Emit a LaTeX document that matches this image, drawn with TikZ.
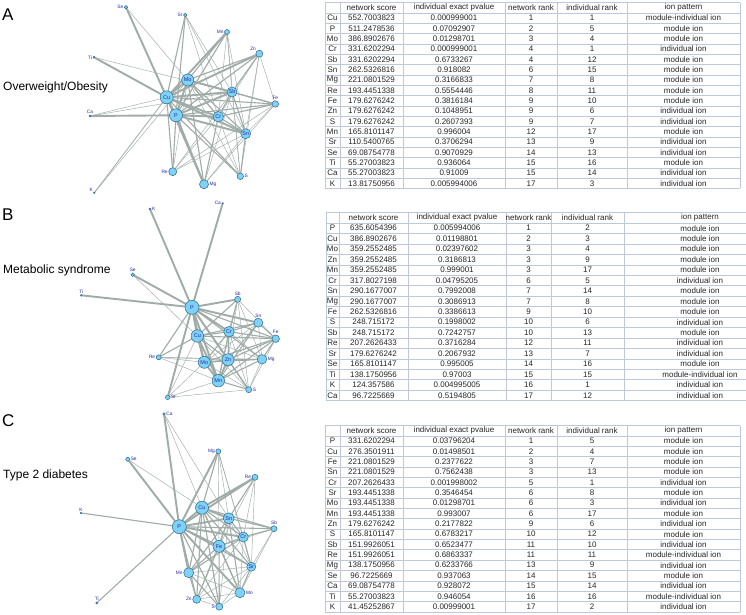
\documentclass[tikz,border=0pt]{standalone}
\usepackage{fontspec}
\setmainfont{Liberation Sans}
\usetikzlibrary{backgrounds}
\definecolor{ionfill}{RGB}{125,210,245}
\definecolor{iondraw}{RGB}{45,105,140}
\definecolor{ionlbl}{RGB}{40,40,170}
\definecolor{linkgray}{RGB}{160,172,168}
\definecolor{gridblue}{RGB}{190,200,215}
\tikzset{
  ion/.style={circle, draw=iondraw, fill=ionfill, line width=0.5pt, inner sep=0pt,
    text=ionlbl, font=\fontsize{5.5}{5.5}\selectfont},
  outlbl/.style={text=ionlbl, font=\fontsize{4.8}{4.8}\selectfont, inner sep=0.6pt},
  link/.style={draw=linkgray, line cap=round},
  gridline/.style={draw=gridblue, line width=0.5pt},
  cell/.style={text=black!85, font=\fontsize{8}{8}\selectfont, inner sep=0pt},
  panel/.style={font=\fontsize{17}{17}\selectfont, inner sep=0pt, anchor=west},
  title/.style={font=\fontsize{12}{12}\selectfont, inner sep=0pt, anchor=west}
}
\begin{document}
\begin{tikzpicture}[x=1pt,y=-1pt]
  \useasboundingbox (0,0) rectangle (746,614);
  \begin{scope}[on background layer]
    \fill[white] (0,0) rectangle (746,614);
  \end{scope}

  % panel letters and titles
  \node[panel] (labA) at (2,15) {A};
  \node[panel] (labB) at (2,215) {B};
  \node[panel] (labC) at (2,421) {C};
  \node[title] (titA) at (3,87.5) {Overweight/Obesity};
  \node[title] (titB) at (3,270) {Metabolic syndrome};
  \node[title] (titC) at (3,475) {Type 2 diabetes};

  % ---- network A ----
  \foreach \n/\x/\y/\dia in {Cu/166.7/97.3/13, P/176/115.3/13, Mo/187.7/80/12,
      Sb/232/92/10, Cr/218.3/116.7/10.5, Sn/245.7/133.7/10}
    \node[ion, minimum size=\dia pt] (a\n) at (\x,\y) {\n};
  \foreach \n/\x/\y/\dia/\p in {Se/126/7.3/3.5/left, Sr/185.3/15/3.5/left, Mn/227/32/5/left,
      Zn/259.3/53.7/7/above left, Ti/94/57.3/2/left, Fe/275.3/104/6.5/above,
      Ca/90/116/2/above, Re/172.7/171.7/8/left, S/240.3/176.3/6.5/right,
      Mg/204/184.3/9/right, K/94.3/192.7/1.5/above left}
    \node[ion, minimum size=\dia pt, label={[outlbl]\p:\n}] (a\n) at (\x,\y) {};
  \begin{scope}[on background layer]
    \foreach \ea/\eb/\w in {Se/Cu/1.9, Se/Cr/0.45,
        Sr/Cu/1.1, Sr/P/1.1, Sr/Sb/0.45, Sr/Cr/0.45, Sr/Sn/0.45,
        Mn/Cu/1.9, Mn/P/1.1, Mn/Mo/1.1, Mn/Sb/0.45, Mn/Cr/0.45, Mn/Sn/0.45, Mn/S/0.45,
        Zn/Cu/1.9, Zn/Mo/1.1, Zn/P/1.1, Zn/Sb/1.1, Zn/Cr/0.45, Zn/Sn/0.45, Zn/S/0.45,
        Ti/Cu/1.9, Ti/Sb/0.45, Ca/P/1.9, Ca/Cu/0.45, Ca/Sb/0.45, K/Cu/0.8, K/Mo/0.45,
        Fe/Cu/1.1, Fe/P/1.1, Fe/Mo/1.1, Fe/Sb/1.1, Fe/Cr/1.1, Fe/Sn/0.45, Fe/Re/0.45,
        Fe/Mg/0.45, Fe/Zn/0.45,
        Re/Cu/1.1, Re/P/1.1, Re/Mo/0.45, Re/Sb/0.45, Re/Cr/0.45, Re/Sn/0.45,
        Mg/Cu/1.9, Mg/P/1.9, Mg/Mo/1.1, Mg/Cr/1.1, Mg/Sb/0.45, Mg/Sn/0.45,
        S/P/1.1, S/Cu/1.1, S/Mo/0.45, S/Sn/1.1, S/Cr/0.45, S/Sb/0.45,
        Cu/P/1.9, Cu/Mo/1.9, Cu/Sb/1.9, Cu/Cr/1.9, Cu/Sn/1.9, P/Mo/1.9, P/Sb/1.9,
        P/Cr/1.9, P/Sn/1.9, Mo/Sb/1.9, Mo/Cr/1.1, Mo/Sn/1.1, Sb/Cr/1.1, Sb/Sn/1.1,
        Cr/Sn/1.1}
      \draw[link, line width=\w pt] (a\ea) -- (a\eb);
  \end{scope}

  % ---- network B ----
  \foreach \n/\x/\y/\dia in {P/192/307.3/14, Cu/197.3/336/12.5, Cr/229/331.7/10.5,
      Mo/204.3/362.3/12, Zn/228/359.7/12, Mn/218.3/380.7/12.5}
    \node[ion, minimum size=\dia pt] (b\n) at (\x,\y) {\n};
  \foreach \n/\x/\y/\dia/\p in {K/150/209/2/right, Ca/222.7/203.3/1.5/left,
      Se/132.7/274.7/3.5/above, Ti/81.3/295.3/2/above, Sb/237.7/299.3/6/above,
      Sn/258.3/322.7/9/above, Fe/275.7/338.7/7.5/above, Re/158.7/357.3/5/left,
      Mg/262/359.3/9.5/right, S/248.7/389.7/6/right, Sr/167.7/397.3/4.5/right}
    \node[ion, minimum size=\dia pt, label={[outlbl]\p:\n}] (b\n) at (\x,\y) {};
  \begin{scope}[on background layer]
    \foreach \ea/\eb/\w in {K/P/1.9, Ca/P/1.9, Se/P/1.9, Se/Cu/0.45, Ti/P/1.9,
        Sb/P/1.9, Sb/Cu/1.1, Sb/Cr/1.1, Sb/Zn/0.45, Sb/Mn/0.45, Sb/Mg/0.45, Sb/S/0.45,
        Sb/Fe/0.45,
        P/Cu/1.9, P/Cr/1.9, P/Mo/1.9, P/Zn/1.9, P/Mn/1.9, P/Sn/1.9, P/Fe/1.1, P/Mg/1.1,
        P/S/1.1, P/Re/1.1, P/Sr/1.9,
        Re/Cu/1.1, Re/Mo/0.45, Re/Zn/0.45, Re/Mn/0.45, Re/Mg/0.45,
        Sr/Cu/0.45, Sr/Mn/0.45, Sr/S/0.45, Sr/Mo/0.45,
        Cu/Cr/1.1, Cu/Mo/1.9, Cu/Zn/1.1, Cu/Mn/1.9, Cu/Sn/1.1, Cu/Fe/1.1, Cu/Mg/0.45,
        Cu/S/0.45, Cr/Mo/1.1, Cr/Zn/1.1, Cr/Mn/1.1, Cr/Sn/1.1, Cr/Fe/1.1, Cr/Mg/0.45,
        Cr/S/0.45, Mo/Zn/1.1, Mo/Mn/1.9, Mo/Sn/0.45, Mo/Fe/1.1, Mo/Mg/1.1, Mo/S/0.45,
        Zn/Mn/1.9, Zn/Sn/1.1, Zn/Fe/1.1, Zn/Mg/1.1, Zn/S/1.1,
        Mn/Sn/1.1, Mn/Fe/1.1, Mn/Mg/1.1, Mn/S/1.1,
        Sn/Fe/1.1, Sn/Mg/0.45, Fe/Mg/1.1, Fe/S/0.45, Mg/S/0.45}
      \draw[link, line width=\w pt] (b\ea) -- (b\eb);
  \end{scope}

  % ---- network C ----
  \foreach \n/\x/\y/\dia in {Cu/202/507.7/13, Sn/228.7/518.3/11, P/179.3/526.7/14,
      Cr/243.3/537/10, Fe/219/546.3/12, Sr/251.3/566.7/9}
    \node[ion, minimum size=\dia pt] (c\n) at (\x,\y) {\n};
  \foreach \n/\x/\y/\dia/\p in {Ca/164/414/2.5/right, Mg/218.3/451.3/5/left,
      Se/127.7/459.3/4/right, Re/255/477.3/6/left, K/81/513/1.5/above,
      Sb/274/528.7/6/above, Mn/188.7/572.7/10/left, Mo/240/592.7/10/right,
      Zn/196.7/599.3/8/left, S/219.3/606.7/7/left, Ti/96.7/603/2/above}
    \node[ion, minimum size=\dia pt, label={[outlbl]\p:\n}] (c\n) at (\x,\y) {};
  \begin{scope}[on background layer]
    \foreach \ea/\eb/\w in {Ca/P/1.9, Ca/Cu/0.45, Ca/Sn/0.45,
        Mg/P/1.9, Mg/Cu/1.1, Mg/Sn/0.45, Mg/Cr/0.45, Mg/Fe/0.45, Mg/Sr/0.45,
        Se/P/1.9, Se/Cu/0.45, Re/P/1.9, Re/Cu/1.9, Re/Sn/1.1, Re/Cr/0.45, Re/Fe/0.45,
        Re/Sr/0.45, K/P/1.1, Ti/P/1.1,
        Sb/P/1.1, Sb/Cu/1.1, Sb/Sn/1.1, Sb/Cr/1.1, Sb/Fe/0.45, Sb/Sr/0.45, Sb/Mo/0.45,
        P/Cu/1.9, P/Sn/1.9, P/Cr/1.9, P/Fe/1.9, P/Sr/1.1, P/Mn/1.9, P/Mo/1.9, P/Zn/1.1,
        P/S/1.1, Cu/Sn/1.9, Cu/Cr/1.1, Cu/Fe/1.1, Cu/Sr/1.1, Cu/Mn/1.1, Cu/Mo/1.1,
        Cu/Zn/1.1, Cu/S/1.1, Sn/Cr/1.1, Sn/Fe/1.1, Sn/Sr/0.45, Sn/Mn/1.1, Sn/Mo/1.1,
        Sn/Zn/0.45, Sn/S/0.45, Cr/Fe/1.1, Cr/Sr/1.1, Cr/Mn/1.1, Cr/Mo/0.45, Cr/Zn/0.45,
        Fe/Sr/1.1, Fe/Mn/1.1, Fe/Mo/1.1, Fe/Zn/1.1, Fe/S/1.1,
        Sr/Mn/0.45, Sr/Mo/1.1, Sr/Zn/0.45, Sr/S/0.45, Mn/Mo/0.45, Mn/Zn/1.1, Mn/S/1.1,
        Mo/Zn/0.45, Mo/S/0.45, Zn/S/0.45}
      \draw[link, line width=\w pt] (c\ea) -- (c\eb);
  \end{scope}

  % ---- table A ----
  \def\ty{2.5}\def\rh{10.33}
  \foreach \r in {0,...,18} \draw[gridline] (325,\ty+\r*\rh) -- (740,\ty+\r*\rh);
  \foreach \c in {325,340,403,505,557,627,740} \draw[gridline] (\c,\ty) -- (\c,\ty+18*\rh);
  \foreach \t/\x [count=\k] in {network score/371.5, individual exact pvalue/454,
      network rank/531, individual rank/592, ion pattern/683.5}
    \node[cell] (tA-h\k) at (\x,\ty+0.5*\rh) {\t};
  \foreach \ion/\score/\pval/\nrank/\irank/\ptn [count=\k] in {
      Cu/552.7003823/0.000999001/1/1/module-individual ion,
      P/511.2478536/0.07092907/2/5/module ion,
      Mo/386.8902676/0.01298701/3/4/module ion,
      Cr/331.6202294/0.000999001/4/1/individual ion,
      Sb/331.6202294/0.6733267/4/12/module ion,
      Sn/262.5326816/0.918082/6/15/module ion,
      Mg/221.0801529/0.3166833/7/8/module ion,
      Re/193.4451338/0.5554446/8/11/module ion,
      Fe/179.6276242/0.3816184/9/10/module ion,
      Zn/179.6276242/0.1048951/9/6/individual ion,
      S/179.6276242/0.2607393/9/7/individual ion,
      Mn/165.8101147/0.996004/12/17/module ion,
      Sr/110.5400765/0.3706294/13/9/individual ion,
      Se/69.08754778/0.9070929/14/13/individual ion,
      Ti/55.27003823/0.936064/15/16/module ion,
      Ca/55.27003823/0.91009/15/14/individual ion,
      K/13.81750956/0.005994006/17/3/individual ion} {
    \node[cell] (tA-\k-0) at (332.5,\ty+\k*\rh+0.5*\rh) {\ion};
    \node[cell] (tA-\k-1) at (371.5,\ty+\k*\rh+0.5*\rh) {\score};
    \node[cell] (tA-\k-2) at (454,\ty+\k*\rh+0.5*\rh) {\pval};
    \node[cell] (tA-\k-3) at (531,\ty+\k*\rh+0.5*\rh) {\nrank};
    \node[cell] (tA-\k-4) at (592,\ty+\k*\rh+0.5*\rh) {\irank};
    \node[cell] (tA-\k-5) at (683.5,\ty+\k*\rh+0.5*\rh) {\ptn};
  }

  % ---- table B (runs past the right edge) ----
  \def\ty{212.5}\def\rh{10.45}
  \foreach \r in {0,...,18} \draw[gridline] (326,\ty+\r*\rh) -- (746,\ty+\r*\rh);
  \foreach \c in {326,339,408,506,551,624} \draw[gridline] (\c,\ty) -- (\c,\ty+18*\rh);
  \foreach \t/\x [count=\k] in {network score/373.5, individual exact pvalue/457,
      network rank/528.5, individual rank/587.5, ion pattern/700}
    \node[cell] (tB-h\k) at (\x,\ty+0.5*\rh) {\t};
  \foreach \ion/\score/\pval/\nrank/\irank/\ptn [count=\k] in {
      P/635.6054396/0.005994006/1/2/module ion,
      Cu/386.8902676/0.01198801/2/3/module ion,
      Mo/359.2552485/0.02397602/3/4/module ion,
      Zn/359.2552485/0.3186813/3/9/module ion,
      Mn/359.2552485/0.999001/3/17/module ion,
      Cr/317.8027198/0.04795205/6/5/individual ion,
      Sn/290.1677007/0.7992008/7/14/module ion,
      Mg/290.1677007/0.3086913/7/8/module ion,
      Fe/262.5326816/0.3386613/9/10/module ion,
      S/248.715172/0.1998002/10/6/individual ion,
      Sb/248.715172/0.7242757/10/13/module ion,
      Re/207.2626433/0.3716284/12/11/individual ion,
      Sr/179.6276242/0.2067932/13/7/individual ion,
      Se/165.8101147/0.995005/14/16/module ion,
      Ti/138.1750956/0.97003/15/15/module-individual ion,
      K/124.357586/0.004995005/16/1/individual ion,
      Ca/96.7225669/0.5194805/17/12/individual ion} {
    \node[cell] (tB-\k-0) at (332.5,\ty+\k*\rh+0.5*\rh) {\ion};
    \node[cell] (tB-\k-1) at (373.5,\ty+\k*\rh+0.5*\rh) {\score};
    \node[cell] (tB-\k-2) at (457,\ty+\k*\rh+0.5*\rh) {\pval};
    \node[cell] (tB-\k-3) at (528.5,\ty+\k*\rh+0.5*\rh) {\nrank};
    \node[cell] (tB-\k-4) at (587.5,\ty+\k*\rh+0.5*\rh) {\irank};
    \node[cell] (tB-\k-5) at (700,\ty+\k*\rh+0.5*\rh) {\ptn};
  }

  % ---- table C ----
  \def\ty{425.5}\def\rh{10.35}
  \foreach \r in {0,...,18} \draw[gridline] (325,\ty+\r*\rh) -- (740,\ty+\r*\rh);
  \foreach \c in {325,340,403,505,557,627,740} \draw[gridline] (\c,\ty) -- (\c,\ty+18*\rh);
  \foreach \t/\x [count=\k] in {network score/371.5, individual exact pvalue/454,
      network rank/531, individual rank/592, ion pattern/683.5}
    \node[cell] (tC-h\k) at (\x,\ty+0.5*\rh) {\t};
  \foreach \ion/\score/\pval/\nrank/\irank/\ptn [count=\k] in {
      P/331.6202294/0.03796204/1/5/module ion,
      Cu/276.3501911/0.01498501/2/4/module ion,
      Fe/221.0801529/0.2377622/3/7/module ion,
      Sn/221.0801529/0.7562438/3/13/module ion,
      Cr/207.2626433/0.001998002/5/1/individual ion,
      Sr/193.4451338/0.3546454/6/8/module ion,
      Mo/193.4451338/0.01298701/6/3/individual ion,
      Mn/193.4451338/0.993007/6/17/module ion,
      Zn/179.6276242/0.2177822/9/6/individual ion,
      S/165.8101147/0.6783217/10/12/module ion,
      Sb/151.9926051/0.6523477/11/10/individual ion,
      Re/151.9926051/0.6863337/11/11/module-individual ion,
      Mg/138.1750956/0.6233766/13/9/individual ion,
      Se/96.7225669/0.937063/14/15/module ion,
      Ca/69.08754778/0.928072/15/14/individual ion,
      Ti/55.27003823/0.946054/16/16/module-individual ion,
      K/41.45252867/0.00999001/17/2/individual ion} {
    \node[cell] (tC-\k-0) at (332.5,\ty+\k*\rh+0.5*\rh) {\ion};
    \node[cell] (tC-\k-1) at (371.5,\ty+\k*\rh+0.5*\rh) {\score};
    \node[cell] (tC-\k-2) at (454,\ty+\k*\rh+0.5*\rh) {\pval};
    \node[cell] (tC-\k-3) at (531,\ty+\k*\rh+0.5*\rh) {\nrank};
    \node[cell] (tC-\k-4) at (592,\ty+\k*\rh+0.5*\rh) {\irank};
    \node[cell] (tC-\k-5) at (683.5,\ty+\k*\rh+0.5*\rh) {\ptn};
  }
\end{tikzpicture}
\end{document}
